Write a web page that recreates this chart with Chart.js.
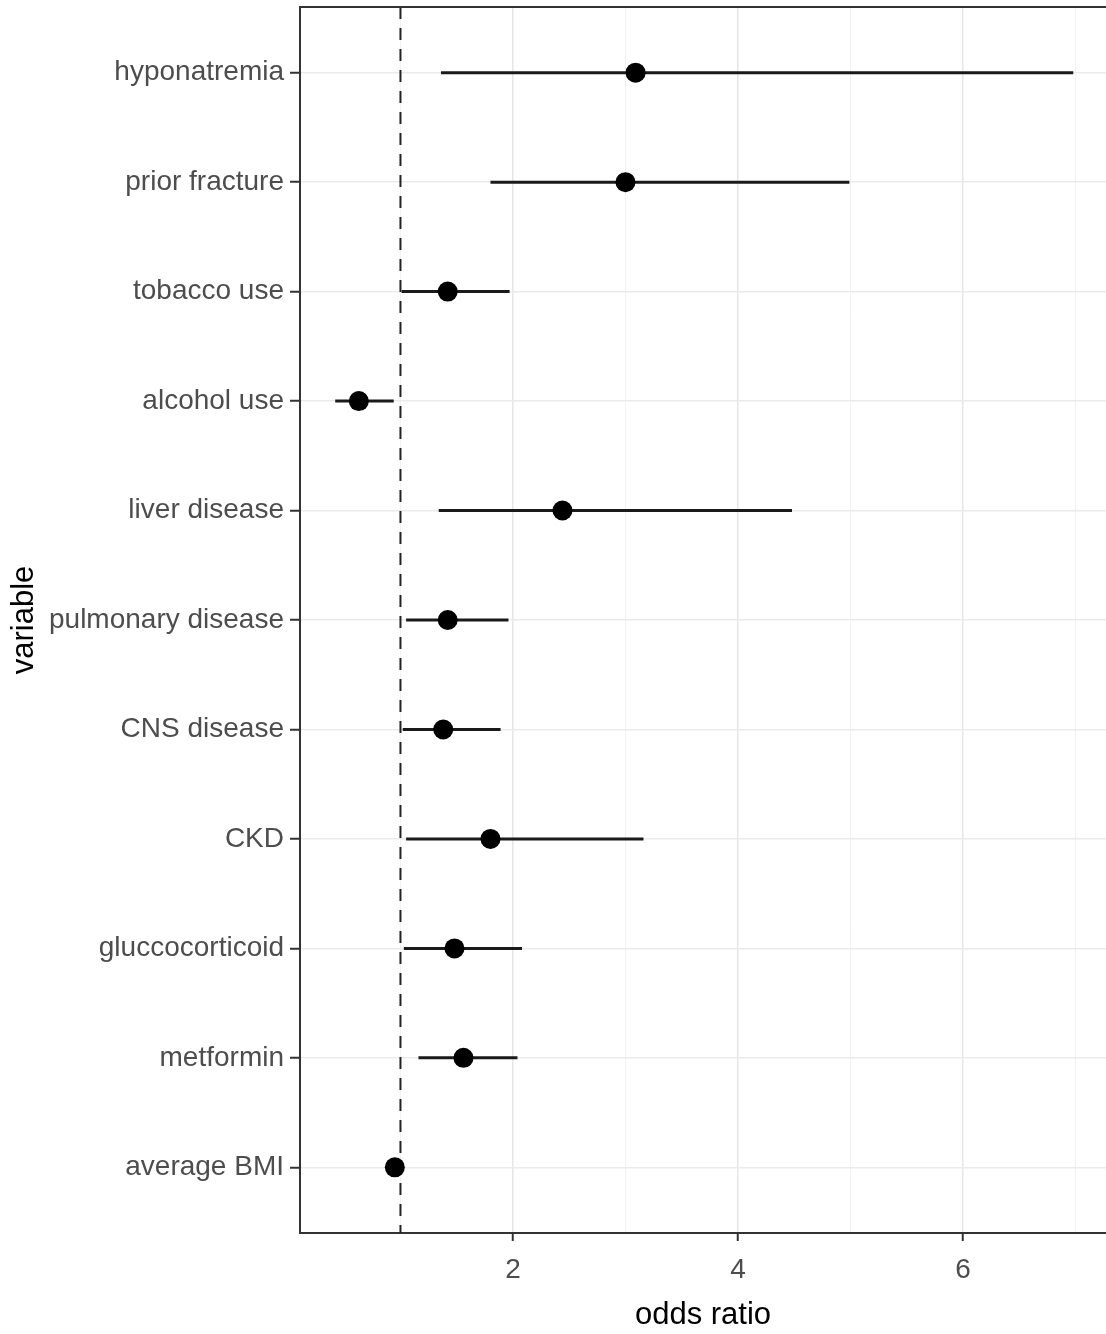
<!DOCTYPE html>
<html>
<head>
<meta charset="utf-8">
<script src="https://cdn.jsdelivr.net/npm/chart.js@4.4.1/dist/chart.umd.min.js"></script>
<style>
  html, body { margin: 0; padding: 0; background: #fff; }
  #wrap { width: 1106px; height: 1334px; }
</style>
</head>
<body>
<div id="wrap"><canvas id="myChart"></canvas></div>
<script>
// forest plot: odds ratio with 95% CI per variable (top to bottom)
var variables = ["hyponatremia", "prior fracture", "tobacco use", "alcohol use", "liver disease",
  "pulmonary disease", "CNS disease", "CKD", "gluccocorticoid", "metformin", "average BMI"];
var oddsRatio = [3.09, 3.00, 1.42, 0.63, 2.44, 1.42, 1.38, 1.80, 1.48, 1.56, 0.95];
var ciLow     = [1.36, 1.80, 1.01, 0.42, 1.34, 1.05, 1.02, 1.05, 1.03, 1.16, 0.93];
var ciHigh    = [6.98, 4.99, 1.97, 0.94, 4.48, 1.96, 1.89, 3.16, 2.08, 2.04, 0.97];
var xTicks = [2, 4, 6];
var refLine = 1;

var datasets = [];

datasets.push({
  label: "odds ratio",
  data: oddsRatio.map(function(v, i) { return {x: v, y: i + 1}; }),
  pointRadius: 10,
  pointBackgroundColor: "#000",
  pointBorderWidth: 0,
  showLine: false,
  order: 0
});

variables.forEach(function(name, i) {
  datasets.push({
    label: name,
    data: [{x: ciLow[i], y: i + 1}, {x: ciHigh[i], y: i + 1}],
    borderColor: "#1a1a1a",
    borderWidth: 3,
    pointRadius: 0,
    showLine: true,
    order: 1
  });
});

datasets.push({
  label: "ref",
  data: [{x: refLine, y: 0.4}, {x: refLine, y: variables.length + 0.6}],
  borderColor: "#222",
  borderWidth: 2,
  borderDash: [12, 9],
  pointRadius: 0,
  showLine: true,
  order: 2
});

var topBorder = {
  id: "topBorder",
  afterDraw: function(chart) {
    var a = chart.chartArea, c = chart.ctx;
    c.save();
    c.strokeStyle = "#333";
    c.lineWidth = 2;
    c.beginPath();
    c.moveTo(a.left - 1, a.top);
    c.lineTo(a.right, a.top);
    c.stroke();
    c.restore();
  }
};

var tickFont = {family: "'Liberation Sans', Arial, sans-serif", size: 28};
var titleFont = {family: "'Liberation Sans', Arial, sans-serif", size: 31};

var ctx = document.getElementById("myChart");
var chart = new Chart(ctx, {
  type: "scatter",
  data: {datasets: datasets},
  plugins: [topBorder],
  options: {
    responsive: true,
    maintainAspectRatio: false,
    animation: false,
    layout: {autoPadding: false, padding: {top: 7, right: 0, left: 0, bottom: 0}},
    plugins: {legend: {display: false}, tooltip: {enabled: false}},
    scales: {
      x: {
        type: "linear",
        min: 0.107,
        max: 7.271,
        afterBuildTicks: function(scale) {
          scale.ticks = [1, 2, 3, 4, 5, 6, 7].map(function(v) { return {value: v}; });
        },
        afterFit: function(scale) {
          scale.height = 101;
          scale.paddingLeft = 0;
          scale.paddingRight = 0;
        },
        ticks: {
          color: "#4d4d4d",
          font: tickFont,
          padding: 12,
          maxRotation: 0,
          callback: function(v) { return xTicks.indexOf(v) >= 0 ? String(v) : ""; }
        },
        grid: {
          color: function(c) { return c.tick && c.tick.value % 2 === 0 ? "#e6e6e6" : "#f2f2f2"; },
          lineWidth: function(c) { return c.tick && c.tick.value % 2 === 0 ? 1.5 : 1; },
          tickColor: function(c) { return c.tick && c.tick.value % 2 === 0 ? "#333" : "rgba(0,0,0,0)"; },
          tickLength: 8,
          tickWidth: 2
        },
        border: {display: true, color: "#333", width: 2},
        title: {display: true, text: "odds ratio", color: "#000", font: titleFont, padding: {top: 0, bottom: 0}}
      },
      y: {
        type: "linear",
        reverse: true,
        min: 0.4,
        max: variables.length + 0.6,
        afterBuildTicks: function(scale) {
          scale.ticks = variables.map(function(n, i) { return {value: i + 1}; });
        },
        afterFit: function(scale) {
          scale.width = 300;
          scale.paddingTop = 0;
          scale.paddingBottom = 0;
        },
        ticks: {
          color: "#4d4d4d",
          font: tickFont,
          padding: 6,
          callback: function(v) { return variables[v - 1] || ""; }
        },
        grid: {
          color: "#ebebeb",
          lineWidth: 1.5,
          tickColor: "#333",
          tickLength: 10,
          tickWidth: 2
        },
        border: {display: true, color: "#333", width: 2},
        title: {display: true, text: "variable", color: "#000", font: titleFont, padding: {top: 6, bottom: 6}}
      }
    }
  }
});
</script>
</body>
</html>
